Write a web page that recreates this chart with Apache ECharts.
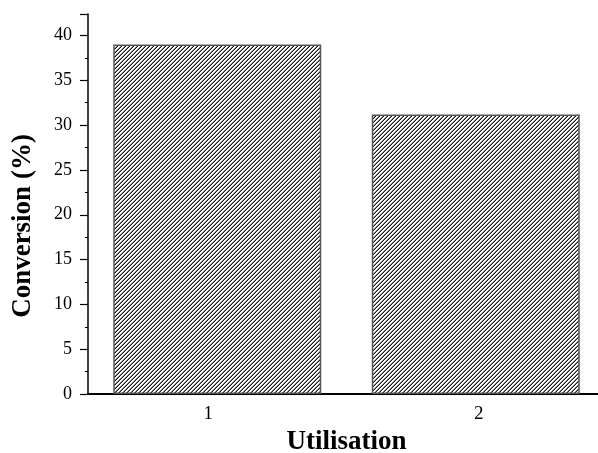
<!DOCTYPE html>
<html>
<head>
<meta charset="utf-8">
<script src="https://cdn.jsdelivr.net/npm/echarts@6/dist/echarts.min.js"></script>
<style>html,body{margin:0;padding:0;background:#fff}#c{width:598px;height:453px}</style>
</head>
<body>
<div id="c"></div>
<script>
const categories = ['1', '2'];
const conversion = [39.0, 31.2];
const yTicks = [0, 5, 10, 15, 20, 25, 30, 35, 40];

function hatch() {
  const s = 4;
  const cv = document.createElement('canvas');
  cv.width = s; cv.height = s;
  const ctx = cv.getContext('2d');
  ctx.fillStyle = '#ffffff';
  ctx.fillRect(0, 0, s, s);
  for (let x = 0; x < s; x++) {
    for (let y = 0; y < s; y++) {
      const k = (x + y) % s;
      if (k === 3) { ctx.fillStyle = '#111111'; ctx.fillRect(x, y, 1, 1); }
      else if (k === 2) { ctx.fillStyle = '#8a8a8a'; ctx.fillRect(x, y, 1, 1); }
    }
  }
  return cv;
}

const chart = echarts.init(document.getElementById('c'));
const font = '"Liberation Serif", "Times New Roman", serif';
chart.setOption({
  animation: false,
  grid: { left: 88, right: -7, top: 14, bottom: 59, containLabel: false, outerBoundsMode: 'none' },
  xAxis: {
    type: 'category',
    data: categories,
    name: 'Utilisation',
    nameLocation: 'middle',
    nameGap: 34,
    nameTextStyle: { fontFamily: font, fontWeight: 'bold', fontSize: 27, color: '#000' },
    axisLine: { lineStyle: { color: '#000', width: 2 } },
    axisTick: { show: false },
    axisLabel: {
      fontFamily: font, fontSize: 19, color: '#000', margin: 11,
      formatter: (v, i) => (i === 0 ? '{a|' + v + '}' : '{b|' + v + '}'),
      rich: {
        a: { fontFamily: font, fontSize: 19, color: '#000', padding: [0, 18, 0, 0] },
        b: { fontFamily: font, fontSize: 19, color: '#000', padding: [0, 0, 0, 6] }
      }
    },
    splitLine: { show: false }
  },
  yAxis: {
    type: 'value',
    min: 0,
    max: 42.4,
    interval: 5,
    name: 'Conversion (%)',
    nameLocation: 'middle',
    nameGap: 51,
    nameTextStyle: { fontFamily: font, fontWeight: 'bold', fontSize: 27, color: '#000', padding: [0, 44, 0, 0] },
    axisLine: { show: true, lineStyle: { color: '#000', width: 1.5 } },
    axisTick: { show: true, inside: false, length: 8, lineStyle: { color: '#000', width: 1.2 } },
    minorTick: { show: true, splitNumber: 2, length: 3, lineStyle: { color: '#000', width: 1 } },
    axisLabel: {
      fontFamily: font, fontSize: 18, color: '#000', margin: 16,
      formatter: v => (yTicks.indexOf(v) >= 0 ? String(v) : '')
    },
    splitLine: { show: false }
  },
  series: [{
    type: 'bar',
    data: conversion,
    barWidth: 208,
    itemStyle: {
      color: { image: hatch(), repeat: 'repeat' },
      borderColor: '#555',
      borderWidth: 1.5
    }
  }]
});
</script>
</body>
</html>
